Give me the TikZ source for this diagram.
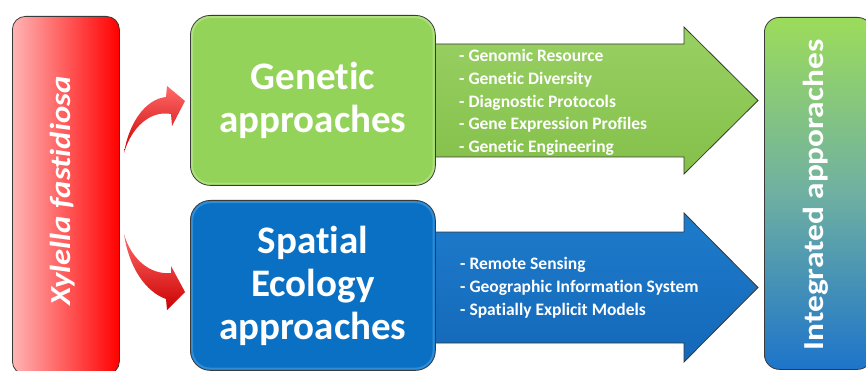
\documentclass[tikz,border=0pt]{standalone}
\usepackage{fontspec}
\usepackage{graphicx}
\setmainfont{Carlito}[Ligatures=NoCommon]
\usetikzlibrary{calc}
\definecolor{edgegray}{HTML}{3A3A3A}
\definecolor{genfill}{HTML}{94D35A}
\definecolor{genrim}{HTML}{C2EB98}
\definecolor{genarrow}{HTML}{8DCB52}
\definecolor{genarrowdk}{HTML}{84C04A}
\definecolor{spafill}{HTML}{0A70C3}
\definecolor{sparim}{HTML}{4FA3E6}
\definecolor{spaarrow}{HTML}{1E7BCB}
\definecolor{spaarrowdk}{HTML}{1468B9}
\definecolor{xfpink}{HTML}{FFB4B4}
\definecolor{xfred}{HTML}{FF0000}
\definecolor{intgreen}{HTML}{9CDC5A}
\definecolor{intteal}{HTML}{6FB0A2}
\definecolor{intblue}{HTML}{1D74CA}
\definecolor{arrowlight}{HTML}{FF6A6A}
\definecolor{arrowdark}{HTML}{CC0000}
\begin{document}
\begin{tikzpicture}[x=1pt,y=-1pt,
  panel/.style={rectangle, draw=edgegray, line width=0.8pt, inner sep=0pt},
  rim/.style={line width=2pt, rounded corners=#1, opacity=0.55},
  bigarrow/.style={draw=edgegray, line width=0.8pt},
  swoosh/.style={draw=none, top color=arrowlight, bottom color=arrowdark},
  title/.style={text=white, font=\bfseries\fontsize{39}{43}\selectfont, align=center},
  items/.style={text=white, font=\bfseries\fontsize{17.5}{22.8}\selectfont, align=left, inner sep=0pt, anchor=north west},
  sidetext/.style={text=white, inner sep=0pt, anchor=base, rotate=90}]
\useasboundingbox (0,0) rectangle (866,371);
\clip (0,0) rectangle (866,371);

% wide arrows pointing to the integrated panel (drawn first, panels cover their tails)
\path[bigarrow, top color=genarrow!90!white, bottom color=genarrowdk]
  (425,44) -- (684,44) -- (684,27) -- (758,100.5) -- (684,174) -- (684,157) -- (425,157) -- cycle;
\path[bigarrow, top color=spaarrow, bottom color=spaarrowdk]
  (425,232) -- (684,232) -- (684,213) -- (758,287.5) -- (684,362) -- (684,343) -- (425,343) -- cycle;

% species panel
\node[panel, rounded corners=13pt, left color=xfpink, right color=xfred,
  minimum width=107pt, minimum height=358pt, anchor=north west] (xf) at (12,16) {};
\node[sidetext, font=\bfseries\itshape\fontsize{29}{34}\selectfont] (xftxt) at (70,191)
  {\scalebox{1.13}[1]{Xylella fastidiosa}};

% genetic panel
\node[panel, rounded corners=20pt, fill=genfill,
  minimum width=245pt, minimum height=170pt, anchor=north west] (gen) at (190,15) {};
\draw[rim=18pt, genrim] ([shift={(2.2,2.2)}]gen.north west) rectangle ([shift={(-2.2,-2.2)}]gen.south east);
\node[title] (gentxt) at (gen.center) {Genetic\\approaches};

% spatial ecology panel
\node[panel, rounded corners=20pt, fill=spafill,
  minimum width=245pt, minimum height=170pt, anchor=north west] (spa) at (190,200) {};
\draw[rim=18pt, sparim] ([shift={(2.2,2.2)}]spa.north west) rectangle ([shift={(-2.2,-2.2)}]spa.south east);
\node[title] (spatxt) at (spa.center) {Spatial\\Ecology\\approaches};

% integrated panel
\node[panel, rounded corners=15pt, top color=intgreen, bottom color=intblue, middle color=intteal,
  minimum width=108pt, minimum height=352pt, anchor=north west] (int) at (764,17) {};
\node[sidetext, font=\bfseries\fontsize{29}{34}\selectfont] (inttxt) at (823,195)
  {\scalebox{1.15}[1]{Integrated apporaches}};

% item lists on the arrows
\node[items] (genlist) at (459,49) {- Genomic Resource\\- Genetic Diversity\\- Diagnostic Protocols\\- Gene Expression Profiles\\- Genetic Engineering};
\node[items] (spalist) at (460,257.5) {- Remote Sensing\\- Geographic Information System\\- Spatially Explicit Models};

% curved red arrows from the species panel
\path[swoosh] (124,153) .. controls (131,128) and (150,110) .. (171,114) -- (172,126) -- (185,101)
  -- (167,86) -- (166,97) .. controls (146,99) and (129,122) .. (124,153) -- cycle;
\path[swoosh] (124,234) .. controls (131,259) and (150,275) .. (171,273) -- (171,266) -- (185,292)
  -- (167,310) -- (166,299) .. controls (146,292) and (129,268) .. (124,234) -- cycle;
\end{tikzpicture}
\end{document}
